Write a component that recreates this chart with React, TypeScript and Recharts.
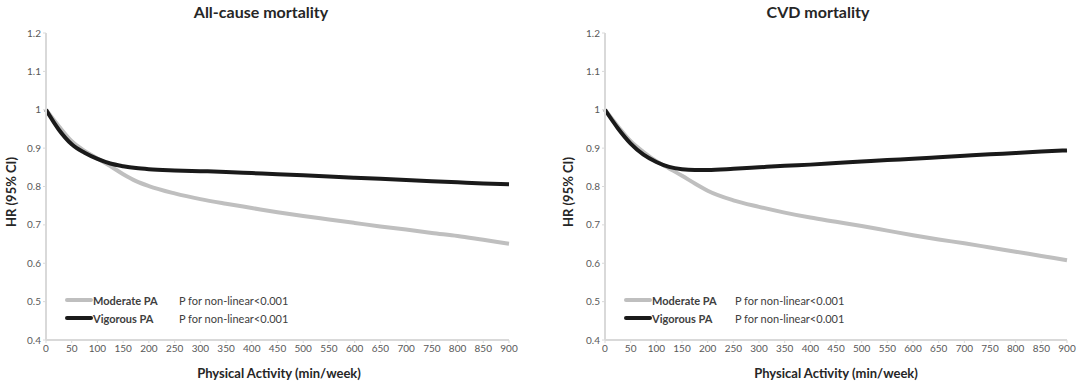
import React from 'react'
import { LineChart, Line, XAxis, YAxis, Legend } from 'recharts'

const activity = [0, 25, 50, 75, 100, 125, 150, 175, 200, 250, 300, 350, 400, 450, 500, 550, 600, 650, 700, 750, 800, 850, 900]

const allCauseModerate = [1.0, 0.957, 0.918, 0.893, 0.873, 0.853, 0.832, 0.814, 0.801, 0.782, 0.767, 0.755, 0.744, 0.733, 0.723, 0.714, 0.705, 0.696, 0.688, 0.679, 0.671, 0.661, 0.651]
const allCauseVigorous = [1.0, 0.948, 0.91, 0.888, 0.872, 0.86, 0.853, 0.848, 0.845, 0.842, 0.84, 0.838, 0.835, 0.832, 0.829, 0.826, 0.823, 0.82, 0.817, 0.814, 0.811, 0.808, 0.806]

const cvdModerate = [1.0, 0.957, 0.918, 0.89, 0.866, 0.847, 0.828, 0.808, 0.789, 0.764, 0.747, 0.732, 0.719, 0.708, 0.697, 0.685, 0.673, 0.662, 0.652, 0.641, 0.63, 0.619, 0.608]
const cvdVigorous = [1.0, 0.952, 0.912, 0.883, 0.864, 0.851, 0.845, 0.843, 0.843, 0.846, 0.85, 0.854, 0.857, 0.861, 0.865, 0.869, 0.872, 0.876, 0.88, 0.884, 0.887, 0.891, 0.894]

const xTicks = [0, 50, 100, 150, 200, 250, 300, 350, 400, 450, 500, 550, 600, 650, 700, 750, 800, 850, 900]
const yTicks = [0.4, 0.5, 0.6, 0.7, 0.8, 0.9, 1, 1.1, 1.2]

const seriesNames = ['Moderate PA', 'Vigorous PA']
const seriesColors = ['#bfbfbf', '#1a1a1a']
const pValues = ['P for non-linear<0.001', 'P for non-linear<0.001']

const FONT = 'Lato, "Open Sans", sans-serif'
const AXIS = '#d9d9d9'
const TICK = '#595959'

function build(mod: number[], vig: number[]) {
  return activity.map((a, i) => ({ pa: a, moderate: mod[i], vigorous: vig[i] }))
}

function PLegend({ gap }: { gap: number }) {
  return (
    <div style={{ fontFamily: FONT, fontSize: 11, color: '#404040' }}>
      {seriesNames.map((name, i) => (
        <div key={name} style={{ display: 'flex', alignItems: 'center', height: 18 }}>
          <div style={{ width: 28, height: 4, background: seriesColors[i], borderRadius: 2 }} />
          <span style={{ fontWeight: 700, width: gap }}>{name}</span>
          <span>{pValues[i]}</span>
        </div>
      ))}
    </div>
  )
}

interface PanelProps {
  title: string
  mod: number[]
  vig: number[]
  marginLeft: number
  marginRight: number
  titleX: number
  labelX: number
  yLabelX: number
  legendGap: number
}

function Panel({ title, mod, vig, marginLeft, marginRight, titleX, labelX, yLabelX, legendGap }: PanelProps) {
  const data = build(mod, vig)
  return (
    <div style={{ position: 'relative', width: 540, height: 388 }}>
      <div style={{ position: 'absolute', top: 2, left: titleX - 150, width: 300, textAlign: 'center', fontFamily: FONT, fontWeight: 700, fontSize: 16, color: '#262626' }}>
        {title}
      </div>
      <div style={{ position: 'absolute', top: 365, left: labelX - 150, width: 300, textAlign: 'center', fontFamily: FONT, fontWeight: 700, fontSize: 13, color: '#262626' }}>
        Physical Activity (min/week)
      </div>
      <div style={{ position: 'absolute', top: 184, left: yLabelX - 50, width: 100, textAlign: 'center', transform: 'rotate(-90deg)', fontFamily: FONT, fontWeight: 700, fontSize: 13, color: '#262626' }}>
        HR (95% CI)
      </div>
      <LineChart width={540} height={388} data={data} margin={{ top: 33, right: marginRight, left: marginLeft, bottom: 18 }}>
        <XAxis
          dataKey="pa"
          type="number"
          domain={[0, 900]}
          ticks={xTicks}
          interval={0}
          height={30}
          axisLine={{ stroke: AXIS, strokeWidth: 2 }}
          tickLine={{ stroke: AXIS }}
          tickSize={3}
          tick={{ fill: TICK, fontSize: 10, fontFamily: FONT }}
        />
        <YAxis
          type="number"
          domain={[0.4, 1.2]}
          ticks={yTicks}
          interval={0}
          width={40}
          axisLine={{ stroke: AXIS, strokeWidth: 2 }}
          tickLine={{ stroke: AXIS }}
          tickSize={3}
          tick={{ fill: TICK, fontSize: 10, fontFamily: FONT }}
        />
        <Legend
          layout="vertical"
          verticalAlign="middle"
          align="center"
          wrapperStyle={{ left: marginLeft + 59, top: 291, width: 260, height: 36 }}
          content={() => <PLegend gap={legendGap} />}
        />
        <Line type="monotone" dataKey="moderate" name={seriesNames[0]} stroke={seriesColors[0]} strokeWidth={4} dot={false} isAnimationActive={false} />
        <Line type="monotone" dataKey="vigorous" name={seriesNames[1]} stroke={seriesColors[1]} strokeWidth={4} dot={false} isAnimationActive={false} />
      </LineChart>
    </div>
  )
}

export default function App() {
  return (
    <div style={{ position: 'absolute', left: 0, top: 0, width: 1080, height: 388, display: 'flex', background: '#fff' }}>
      <Panel title="All-cause mortality" mod={allCauseModerate} vig={allCauseVigorous} marginLeft={6} marginRight={31} titleX={261} labelX={279} yLabelX={11} legendGap={86} />
      <Panel title="CVD mortality" mod={cvdModerate} vig={cvdVigorous} marginLeft={25} marginRight={13} titleX={278} labelX={296} yLabelX={28} legendGap={83} />
    </div>
  )
}
